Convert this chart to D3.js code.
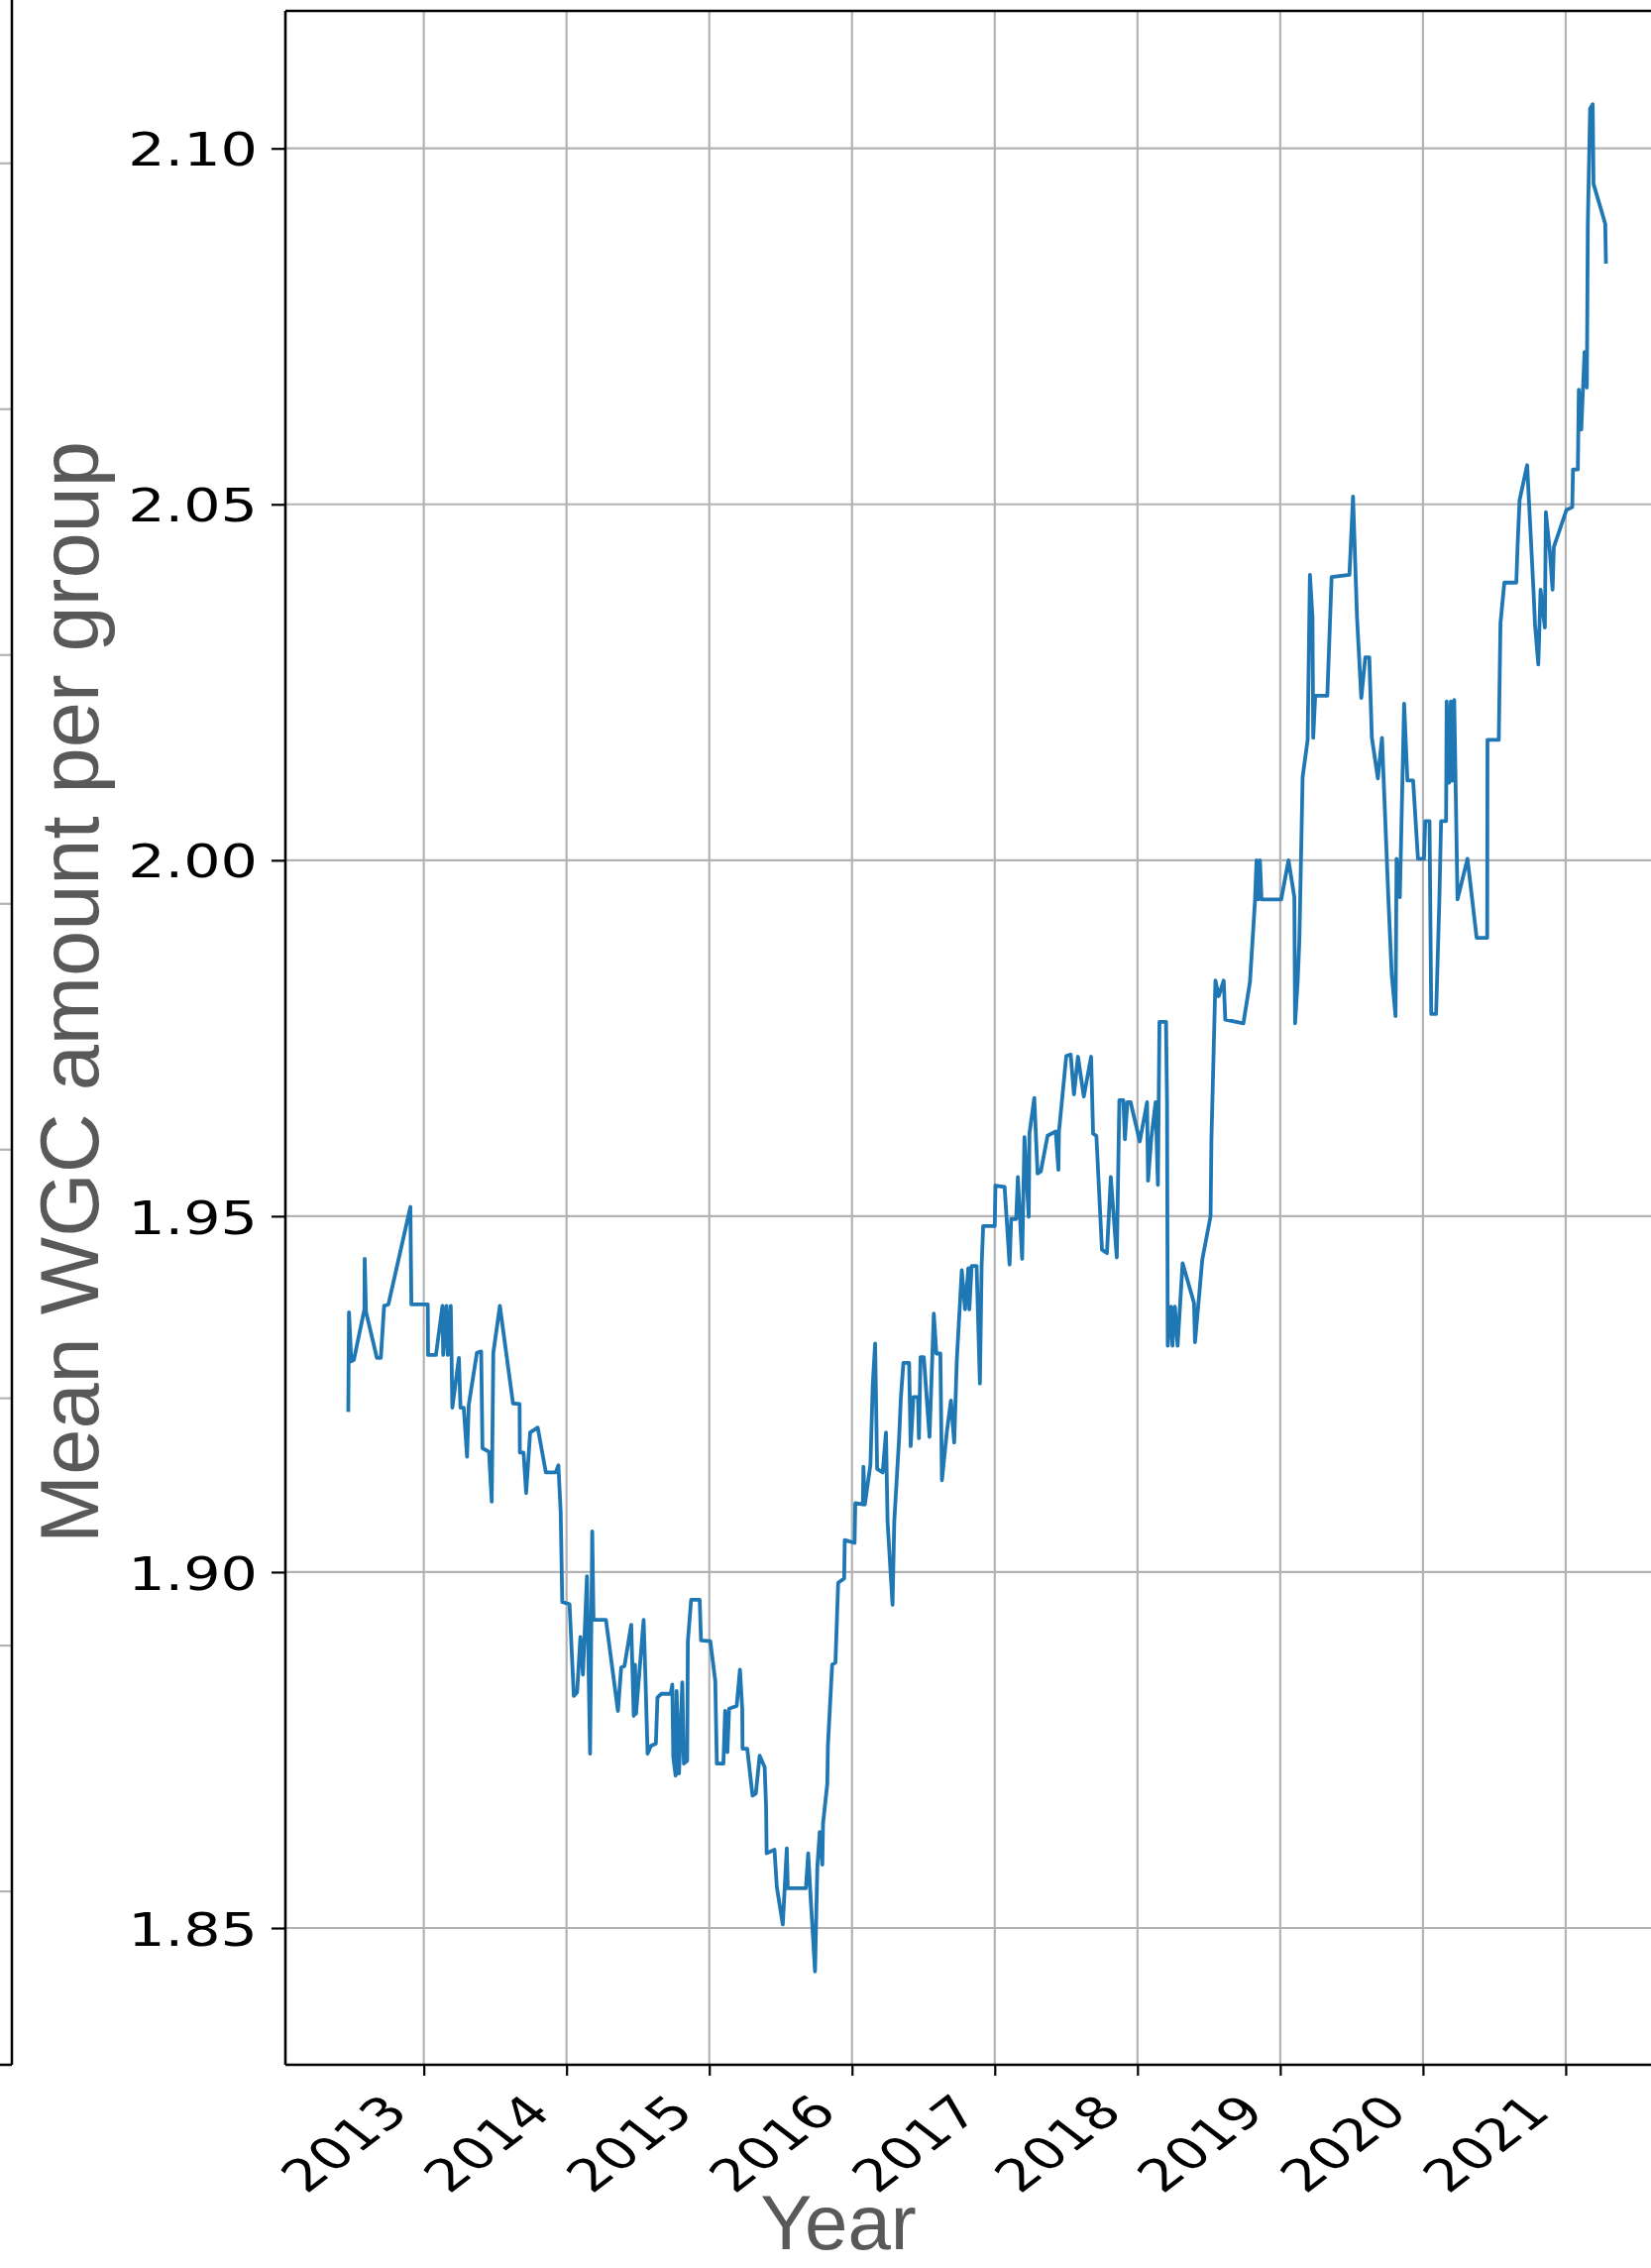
<!DOCTYPE html>
<html>
<head>
<meta charset="utf-8">
<script src="https://cdn.jsdelivr.net/npm/d3@7"></script>
<style>
  html, body { margin: 0; padding: 0; background: #ffffff; }
  svg { display: block; }
</style>
</head>
<body>
<svg id="chart" width="1666" height="2288"></svg>
<script>
// ---- data (decimal year, mean WGC amount per group) ----
const years = [
  2012.471, 2012.476, 2012.492, 2012.510, 2012.584, 2012.586, 2012.595, 2012.671, 2012.699, 2012.722,
  2012.752, 2012.906, 2012.913, 2013.028, 2013.030, 2013.085, 2013.131, 2013.136, 2013.159, 2013.168,
  2013.189, 2013.200, 2013.246, 2013.257, 2013.280, 2013.303, 2013.315, 2013.372, 2013.402, 2013.411,
  2013.457, 2013.476, 2013.487, 2013.533, 2013.625, 2013.671, 2013.673, 2013.699, 2013.717, 2013.745,
  2013.798, 2013.855, 2013.924, 2013.943, 2013.959, 2013.970, 2014.021, 2014.051, 2014.074, 2014.097,
  2014.115, 2014.143, 2014.165, 2014.180, 2014.189, 2014.276, 2014.360, 2014.383, 2014.406, 2014.453,
  2014.471, 2014.480, 2014.487, 2014.540, 2014.550, 2014.568, 2014.591, 2014.626, 2014.637, 2014.665,
  2014.730, 2014.741, 2014.748, 2014.764, 2014.771, 2014.788, 2014.811, 2014.822, 2014.845, 2014.850,
  2014.873, 2014.933, 2014.942, 2015.007, 2015.042, 2015.053, 2015.099, 2015.111, 2015.127, 2015.139,
  2015.192, 2015.215, 2015.231, 2015.233, 2015.266, 2015.303, 2015.326, 2015.353, 2015.388, 2015.398,
  2015.402, 2015.457, 2015.473, 2015.515, 2015.543, 2015.550, 2015.677, 2015.693, 2015.711, 2015.741,
  2015.757, 2015.774, 2015.792, 2015.797, 2015.827, 2015.831, 2015.861, 2015.884, 2015.903, 2015.945,
  2015.949, 2016.018, 2016.023, 2016.076, 2016.080, 2016.090, 2016.129, 2016.145, 2016.162, 2016.176,
  2016.215, 2016.238, 2016.249, 2016.284, 2016.296, 2016.330, 2016.342, 2016.360, 2016.400, 2016.411,
  2016.430, 2016.462, 2016.469, 2016.480, 2016.503, 2016.543, 2016.573, 2016.591, 2016.619, 2016.630,
  2016.665, 2016.693, 2016.716, 2016.734, 2016.769, 2016.792, 2016.815, 2016.822, 2016.838, 2016.873,
  2016.896, 2016.908, 2016.919, 2017.000, 2017.005, 2017.069, 2017.104, 2017.115, 2017.150, 2017.162,
  2017.192, 2017.208, 2017.238, 2017.243, 2017.277, 2017.300, 2017.323, 2017.370, 2017.427, 2017.446,
  2017.450, 2017.501, 2017.532, 2017.555, 2017.583, 2017.624, 2017.675, 2017.689, 2017.712, 2017.751,
  2017.786, 2017.813, 2017.855, 2017.873, 2017.901, 2017.912, 2017.929, 2017.952, 2018.016, 2018.067,
  2018.074, 2018.097, 2018.127, 2018.143, 2018.154, 2018.200, 2018.207, 2018.212, 2018.235, 2018.245,
  2018.262, 2018.281, 2018.316, 2018.396, 2018.403, 2018.454, 2018.512, 2018.518, 2018.546, 2018.569,
  2018.604, 2018.615, 2018.742, 2018.788, 2018.823, 2018.834, 2018.845, 2018.858, 2018.869, 2019.007,
  2019.058, 2019.099, 2019.104, 2019.122, 2019.134, 2019.157, 2019.192, 2019.208, 2019.226, 2019.231,
  2019.245, 2019.330, 2019.360, 2019.485, 2019.510, 2019.538, 2019.568, 2019.596, 2019.624, 2019.642,
  2019.684, 2019.713, 2019.758, 2019.781, 2019.808, 2019.815, 2019.838, 2019.868, 2019.891, 2019.931,
  2019.965, 2020.007, 2020.016, 2020.046, 2020.058, 2020.092, 2020.115, 2020.127, 2020.162, 2020.166,
  2020.185, 2020.195, 2020.208, 2020.219, 2020.242, 2020.312, 2020.376, 2020.450, 2020.452, 2020.531,
  2020.543, 2020.570, 2020.654, 2020.663, 2020.677, 2020.730, 2020.774, 2020.785, 2020.808, 2020.824,
  2020.854, 2020.861, 2020.889, 2020.908, 2020.917, 2021.005, 2021.046, 2021.051, 2021.085, 2021.092,
  2021.109, 2021.132, 2021.148, 2021.155, 2021.171, 2021.189, 2021.195, 2021.277, 2021.282
];
const values = [
  1.9225, 1.9365, 1.9296, 1.9298, 1.9369, 1.9440, 1.9366, 1.9301, 1.9301, 1.9374,
  1.9376, 1.9513, 1.9376, 1.9376, 1.9305, 1.9305, 1.9374, 1.9305, 1.9374, 1.9305,
  1.9374, 1.9231, 1.9301, 1.9231, 1.9231, 1.9162, 1.9235, 1.9308, 1.9310, 1.9174,
  1.9169, 1.9099, 1.9308, 1.9374, 1.9237, 1.9236, 1.9168, 1.9168, 1.9111, 1.9196,
  1.9203, 1.9140, 1.9140, 1.9150, 1.9084, 1.8958, 1.8955, 1.8826, 1.8831, 1.8909,
  1.8856, 1.8994, 1.8745, 1.9057, 1.8933, 1.8933, 1.8805, 1.8866, 1.8868, 1.8926,
  1.8798, 1.8870, 1.8801, 1.8933, 1.8870, 1.8745, 1.8756, 1.8759, 1.8824, 1.8829,
  1.8829, 1.8842, 1.8740, 1.8714, 1.8833, 1.8717, 1.8845, 1.8731, 1.8735, 1.8903,
  1.8961, 1.8961, 1.8904, 1.8903, 1.8847, 1.8731, 1.8731, 1.8805, 1.8747, 1.8808,
  1.8812, 1.8863, 1.8808, 1.8752, 1.8752, 1.8686, 1.8689, 1.8742, 1.8726, 1.8670,
  1.8605, 1.8610, 1.8558, 1.8505, 1.8612, 1.8556, 1.8556, 1.8605, 1.8540, 1.8439,
  1.8586, 1.8635, 1.8589, 1.8647, 1.8703, 1.8756, 1.8870, 1.8873, 1.8985, 1.8991,
  1.9045, 1.9041, 1.9097, 1.9095, 1.9148, 1.9095, 1.9151, 1.9262, 1.9321, 1.9145,
  1.9140, 1.9196, 1.9071, 1.8954, 1.9071, 1.9188, 1.9244, 1.9294, 1.9294, 1.9177,
  1.9246, 1.9246, 1.9188, 1.9302, 1.9302, 1.9190, 1.9363, 1.9307, 1.9307, 1.9129,
  1.9198, 1.9241, 1.9182, 1.9297, 1.9424, 1.9369, 1.9427, 1.9369, 1.9430, 1.9430,
  1.9265, 1.9430, 1.9486, 1.9486, 1.9543, 1.9541, 1.9432, 1.9496, 1.9496, 1.9555,
  1.9440, 1.9611, 1.9499, 1.9616, 1.9666, 1.9560, 1.9563, 1.9613, 1.9619, 1.9565,
  1.9619, 1.9725, 1.9727, 1.9671, 1.9724, 1.9668, 1.9724, 1.9616, 1.9613, 1.9453,
  1.9448, 1.9555, 1.9442, 1.9663, 1.9663, 1.9608, 1.9660, 1.9660, 1.9605, 1.9660,
  1.9550, 1.9610, 1.9660, 1.9544, 1.9773, 1.9773, 1.9660, 1.9318, 1.9373, 1.9318,
  1.9373, 1.9318, 1.9434, 1.9378, 1.9323, 1.9439, 1.9500, 1.9608, 1.9831, 1.9809,
  1.9831, 1.9776, 1.9771, 1.9829, 1.9942, 2.0000, 1.9945, 2.0000, 1.9945, 1.9945,
  2.0000, 1.9948, 1.9771, 1.9829, 1.9887, 2.0117, 2.0169, 2.0401, 2.0341, 2.0172,
  2.0231, 2.0231, 2.0398, 2.0401, 2.0511, 2.0341, 2.0228, 2.0285, 2.0285, 2.0172,
  2.0115, 2.0172, 1.9945, 1.9840, 1.9781, 2.0002, 1.9948, 2.0220, 2.0112, 2.0112,
  2.0002, 2.0002, 2.0055, 2.0055, 1.9784, 1.9784, 1.9945, 2.0055, 2.0055, 2.0223,
  2.0109, 2.0223, 2.0112, 2.0225, 1.9945, 2.0002, 1.9891, 1.9891, 2.0169, 2.0169,
  2.0333, 2.0390, 2.0390, 2.0443, 2.0506, 2.0555, 2.0380, 2.0331, 2.0275, 2.0380,
  2.0327, 2.0489, 2.0433, 2.0380, 2.0440, 2.0492, 2.0496, 2.0549, 2.0549, 2.0661,
  2.0605, 2.0714, 2.0664, 2.0894, 2.1056, 2.1062, 2.0950, 2.0894, 2.0838
];
const xTickYears = [2013, 2014, 2015, 2016, 2017, 2018, 2019, 2020, 2021];
const yTickValues = [1.85, 1.90, 1.95, 2.00, 2.05, 2.10];
const xLabel = "Year";
const yLabel = "Mean WGC amount per group";
// grid lines of the neighbouring (cropped) panel on the far left
const neighbourGridY = [164.8, 412.8, 660.8, 911.8, 1159.8, 1410.6, 1660.1, 1908.1];

// ---- layout ----
const W = 1666, H = 2288;
const plot = { left: 288, top: 11, right: 1684, bottom: 2083 };
const lineColor = "#1f77b4";
const gridColor = "#b3b3b3";
const tickFont = "'DejaVu Sans', sans-serif";
const labelFont = "'Liberation Sans', Arial, sans-serif";

const data = years.map((y, i) => ({ year: y, value: values[i] }));

const xExt = d3.extent(years), yExt = d3.extent(values);
const xPad = (xExt[1] - xExt[0]) * 0.05, yPad = (yExt[1] - yExt[0]) * 0.05;

const x = d3.scaleLinear().domain([xExt[0] - xPad, xExt[1] + xPad]).range([plot.left, plot.right]);
const y = d3.scaleLinear().domain([yExt[0] - yPad, yExt[1] + yPad]).range([plot.bottom, plot.top]);

const svg = d3.select("#chart");
svg.append("rect").attr("width", W).attr("height", H).attr("fill", "#ffffff");

// neighbouring panel fragment
const nb = svg.append("g");
nb.selectAll("line.g").data(neighbourGridY).join("line")
  .attr("x1", 0).attr("x2", 12).attr("y1", d => d).attr("y2", d => d)
  .attr("stroke", gridColor).attr("stroke-width", 2.2);
nb.append("line").attr("x1", 12).attr("x2", 12).attr("y1", 0).attr("y2", plot.bottom)
  .attr("stroke", "#000").attr("stroke-width", 2.5);
nb.append("line").attr("x1", 0).attr("x2", 12).attr("y1", plot.bottom).attr("y2", plot.bottom)
  .attr("stroke", "#000").attr("stroke-width", 2.5);

svg.append("defs").append("clipPath").attr("id", "clip")
  .append("rect").attr("x", plot.left).attr("y", plot.top)
  .attr("width", plot.right - plot.left).attr("height", plot.bottom - plot.top);

// grid
const grid = svg.append("g").attr("clip-path", "url(#clip)");
grid.selectAll("line.vx").data(xTickYears).join("line")
  .attr("x1", d => x(d)).attr("x2", d => x(d))
  .attr("y1", plot.top).attr("y2", plot.bottom)
  .attr("stroke", gridColor).attr("stroke-width", 2.2);
grid.selectAll("line.hy").data(yTickValues).join("line")
  .attr("x1", plot.left).attr("x2", plot.right)
  .attr("y1", d => y(d)).attr("y2", d => y(d))
  .attr("stroke", gridColor).attr("stroke-width", 2.2);

// line
const line = d3.line().x(d => x(d.year)).y(d => y(d.value));
svg.append("g").attr("clip-path", "url(#clip)")
  .append("path").datum(data)
  .attr("d", line).attr("fill", "none")
  .attr("stroke", lineColor).attr("stroke-width", 3.8)
  .attr("stroke-linejoin", "round").attr("stroke-linecap", "butt");

// axes
const xAxis = d3.axisBottom(x).tickValues(xTickYears).tickSize(11).tickFormat(d3.format("d"));
const gx = svg.append("g").attr("transform", `translate(0,${plot.bottom})`).call(xAxis);
gx.select(".domain").remove();
gx.selectAll(".tick line").attr("stroke", "#000").attr("stroke-width", 2.2);
gx.selectAll(".tick text")
  .attr("font-family", tickFont).attr("font-size", 45).attr("fill", "#000")
  .attr("text-anchor", "end").attr("y", null).attr("dy", null)
  .attr("transform", "translate(-14,50) scale(1.3,1) rotate(-45)");

const yAxis = d3.axisLeft(y).tickValues(yTickValues).tickSize(14).tickFormat(d3.format(".2f"));
const gy = svg.append("g").attr("transform", `translate(${plot.left},0)`).call(yAxis);
gy.select(".domain").remove();
gy.selectAll(".tick line").attr("stroke", "#000").attr("stroke-width", 2.2);
gy.selectAll(".tick text")
  .attr("font-family", tickFont).attr("font-size", 47).attr("fill", "#000")
  .attr("text-anchor", "end").attr("x", null).attr("dy", null)
  .attr("transform", "translate(-28,0) scale(1.25,1)")
  .attr("dy", "0.365em");

// spines
const sp = svg.append("g").attr("stroke", "#000").attr("stroke-width", 2.6);
sp.append("line").attr("x1", plot.left).attr("x2", plot.left).attr("y1", plot.top).attr("y2", plot.bottom);
sp.append("line").attr("x1", plot.left).attr("x2", plot.right).attr("y1", plot.bottom).attr("y2", plot.bottom);
sp.append("line").attr("x1", plot.left).attr("x2", plot.right).attr("y1", plot.top).attr("y2", plot.top);
sp.append("line").attr("x1", plot.right).attr("x2", plot.right).attr("y1", plot.top).attr("y2", plot.bottom);

// labels
svg.append("text").text(xLabel)
  .attr("x", 846).attr("y", 2269)
  .attr("text-anchor", "middle")
  .attr("font-family", labelFont).attr("font-size", 78).attr("fill", "#595959");

svg.append("text").text(yLabel)
  .attr("transform", "translate(99,1001) rotate(-90)")
  .attr("text-anchor", "middle")
  .attr("font-family", labelFont).attr("font-size", 83).attr("fill", "#595959");
</script>
</body>
</html>
